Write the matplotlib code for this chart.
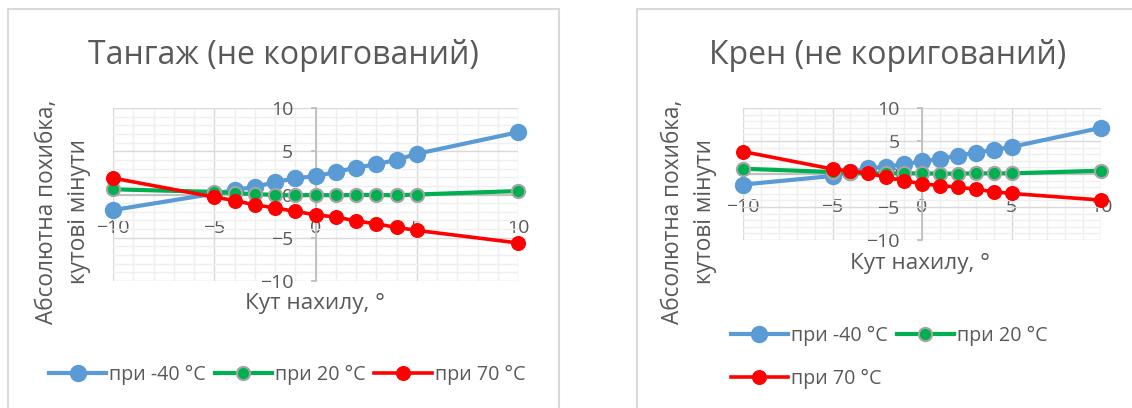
import matplotlib.pyplot as plt
from matplotlib.patches import Rectangle
from matplotlib.lines import Line2D
from matplotlib.ticker import MultipleLocator

plt.rcParams['font.family'] = ['Open Sans', 'DejaVu Sans']

angles = [-10, -5, -4, -3, -2, -1, 0, 1, 2, 3, 4, 5, 10]
series_names = ['при -40 °C', 'при 20 °C', 'при 70 °C']

pitch_m40 = [-1.8, 0.1, 0.5, 0.9, 1.4, 1.9, 2.1, 2.6, 3.1, 3.5, 4.0, 4.7, 7.2]
pitch_p20 = [0.6, 0.3, 0.15, 0.05, -0.05, -0.1, -0.05, -0.1, -0.05, -0.05, -0.1, 0.0, 0.4]
pitch_p70 = [1.9, -0.3, -0.7, -1.2, -1.55, -1.95, -2.35, -2.6, -3.05, -3.4, -3.8, -4.15, -5.6]

roll_m40 = [-1.6, -0.3, 0.3, 0.85, 1.1, 1.5, 1.9, 2.3, 2.75, 3.25, 3.65, 4.1, 7.0]
roll_p20 = [0.8, 0.3, 0.1, 0.1, 0.1, 0.1, 0.1, 0.05, 0.05, 0.1, 0.1, 0.1, 0.5]
roll_p70 = [3.4, 0.75, 0.45, 0.1, -0.5, -1.0, -1.5, -1.75, -2.0, -2.3, -2.7, -2.95, -3.95]

W, H = 1132, 408
TXT = '#595959'
styles = [dict(color='#5B9BD5', lw=3, marker='o', ms=11.5, mec='#5B9BD5'),
          dict(color='#00B050', lw=3, marker='o', ms=9.5, mec='#A5A5A5', mew=1.5),
          dict(color='#FF0000', lw=2.6, marker='o', ms=9.8, mec='#FF0000')]

fig = plt.figure(figsize=(W / 100, H / 100), dpi=100)


def fx(px):
    return px / W


def fy(py):
    return 1 - py / H


def chart(box, plot, title, title_x, ylab_x, xlab_xy, data):
    fig.add_artist(Rectangle((fx(box[0]), fy(box[1] + 600)), fx(box[2] - box[0]), 600 / H,
                             transform=fig.transFigure, fill=False, ec='#D9D9D9', lw=1.5))
    x0, y0, x1, y1 = plot
    ax = fig.add_axes([fx(x0), fy(y1), fx(x1 - x0), (y1 - y0) / H])
    ax.set_xlim(-10, 10)
    ax.set_ylim(-10, 10)
    ax.xaxis.set_major_locator(MultipleLocator(5))
    ax.yaxis.set_major_locator(MultipleLocator(5))
    ax.xaxis.set_minor_locator(MultipleLocator(1))
    ax.yaxis.set_minor_locator(MultipleLocator(1))
    ax.grid(which='major', color='#D9D9D9', lw=1)
    ax.grid(which='minor', color='#EFEFEF', lw=1)
    ax.set_axisbelow(True)
    for s in ['top', 'right']:
        ax.spines[s].set_visible(False)
    for s in ['left', 'bottom']:
        ax.spines[s].set_position(('data', 0))
        ax.spines[s].set_color('#BFBFBF')
        ax.spines[s].set_linewidth(1.3)
    ax.tick_params(which='minor', length=0)
    ax.tick_params(axis='x', which='major', length=0, pad=17.5, labelsize=14, labelcolor=TXT)
    ax.tick_params(axis='y', which='major', length=3.6, width=1.3, color='#BFBFBF', pad=12.5,
                   labelsize=14, labelcolor=TXT)
    for vals, st in zip(data, styles):
        ax.plot(angles, vals, clip_on=False, zorder=3, **st)
    fig.text(fx(title_x), fy(55), title, ha='center', va='center', fontsize=23, color=TXT)
    fig.text(fx(ylab_x), fy(212), 'Абсолютна похибка,\nкутові мінути', rotation=90,
             ha='center', va='center', multialignment='center', fontsize=16.3, color=TXT,
             linespacing=1.4)
    fig.text(fx(xlab_xy[0]), fy(xlab_xy[1]), 'Кут нахилу, °', ha='center', va='center',
             fontsize=16.2, color=TXT)
    return ax


chart((8, 9, 559), (113, 108, 518, 281), 'Тангаж (не коригований)', 283.5, 63, (315, 303),
      [pitch_m40, pitch_p20, pitch_p70])
chart((637, 9, 1139), (743, 108, 1101, 240), 'Крен (не коригований)', 888, 689, (920, 263),
      [roll_m40, roll_p20, roll_p70])

handles = [Line2D([], [], **st) for st in styles]
fig.legend(handles, series_names, loc='center', bbox_to_anchor=(fx(287), fy(375)), ncol=3,
           frameon=False, fontsize=14.2, labelcolor=TXT, handlelength=2.9, handletextpad=0.15,
           columnspacing=0.45, borderpad=0)
order = [0, 2, 1]
fig.legend([handles[i] for i in order], [series_names[i] for i in order], loc='center',
           bbox_to_anchor=(fx(889), fy(357.5)), ncol=2, frameon=False, fontsize=14.2,
           labelcolor=TXT, handlelength=2.9, handletextpad=0.15, columnspacing=0.45,
           labelspacing=1.15, borderpad=0)

fig.savefig('out.png', dpi=100)
